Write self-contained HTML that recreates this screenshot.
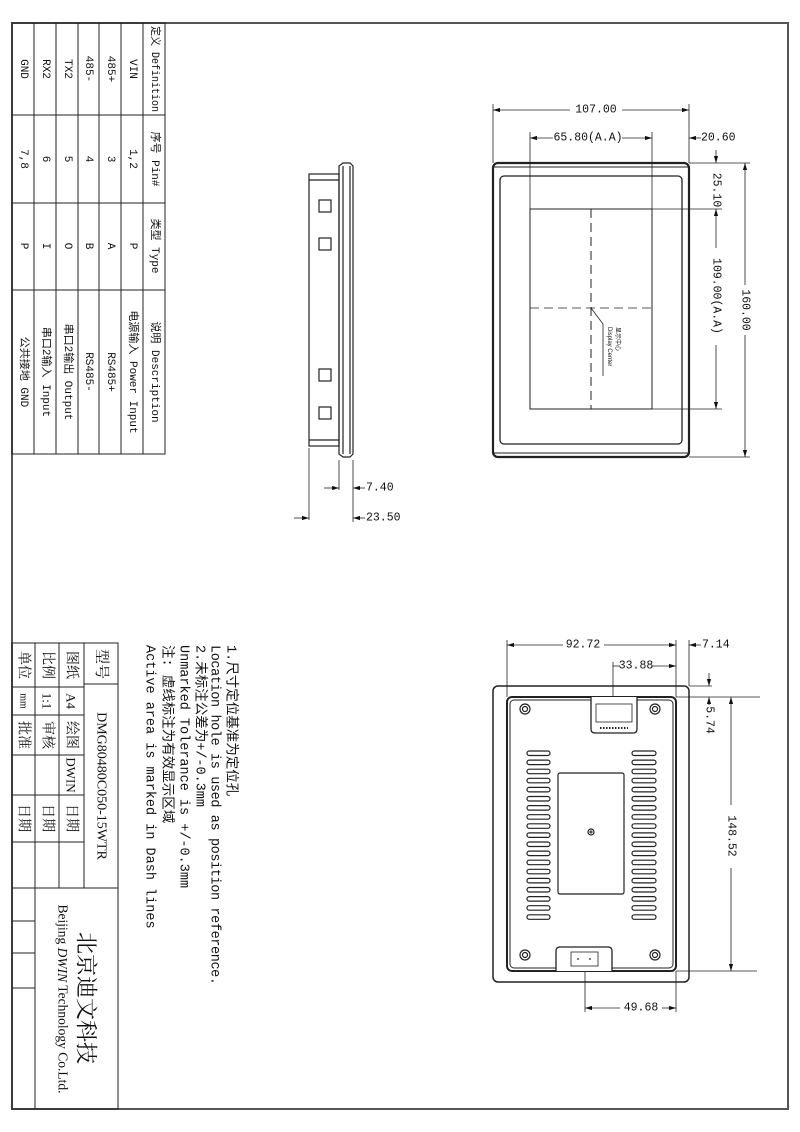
<!DOCTYPE html>
<html><head><meta charset="utf-8"><style>
html,body{margin:0;padding:0;background:#fff;}
svg{display:block;}
text{fill:#111;}
.m{font-family:"Liberation Mono","Noto Sans CJK SC",monospace;}
.s{font-family:"Liberation Serif","Noto Serif CJK SC",serif;}
</style></head><body>
<svg width="800" height="1132" viewBox="0 0 800 1132" xmlns="http://www.w3.org/2000/svg">
<defs>
<marker id="a" viewBox="0 0 10 10" refX="10" refY="5" markerWidth="7" markerHeight="7" orient="auto-start-reverse" markerUnits="userSpaceOnUse"><path d="M0,2 L10,5 L0,8 z" fill="#111"/></marker>
</defs>
<g fill="none" stroke="#333" stroke-width="1.5">
<path d="M12,23 H788 V1109 H12 Z" stroke="#555" stroke-width="2"/>
</g>
<!-- pin table -->
<g fill="none" stroke="#222" stroke-width="1">
<rect x="12" y="23" width="153" height="431"/>
<line x1="34" y1="23" x2="34" y2="454"/><line x1="56" y1="23" x2="56" y2="454"/>
<line x1="78" y1="23" x2="78" y2="454"/><line x1="99" y1="23" x2="99" y2="454"/>
<line x1="121" y1="23" x2="121" y2="454"/><line x1="143" y1="23" x2="143" y2="454"/>
<line x1="12" y1="115" x2="165" y2="115"/><line x1="12" y1="203" x2="165" y2="203"/>
<line x1="12" y1="290" x2="165" y2="290"/>
</g>
<g class="m" font-size="11" text-anchor="middle" dominant-baseline="central">
<text transform="translate(154,69) rotate(90)" textLength="86" lengthAdjust="spacingAndGlyphs">定义 Definition</text>
<text transform="translate(154,159) rotate(90)">序号 Pin#</text>
<text transform="translate(154,246) rotate(90)">类型 Type</text>
<text transform="translate(154,372) rotate(90)">说明 Description</text>
<text transform="translate(132,69) rotate(90)">VIN</text>
<text transform="translate(132,159) rotate(90)">1,2</text>
<text transform="translate(132,246) rotate(90)">P</text>
<text transform="translate(132,372) rotate(90)">电源输入 Power Input</text>
<text transform="translate(110,69) rotate(90)">485+</text>
<text transform="translate(110,159) rotate(90)">3</text>
<text transform="translate(110,246) rotate(90)">A</text>
<text transform="translate(110,372) rotate(90)">RS485+</text>
<text transform="translate(88,69) rotate(90)">485-</text>
<text transform="translate(88,159) rotate(90)">4</text>
<text transform="translate(88,246) rotate(90)">B</text>
<text transform="translate(88,372) rotate(90)">RS485-</text>
<text transform="translate(67,69) rotate(90)">TX2</text>
<text transform="translate(67,159) rotate(90)">5</text>
<text transform="translate(67,246) rotate(90)">O</text>
<text transform="translate(67,372) rotate(90)">串口2输出 Output</text>
<text transform="translate(45,69) rotate(90)">RX2</text>
<text transform="translate(45,159) rotate(90)">6</text>
<text transform="translate(45,246) rotate(90)">I</text>
<text transform="translate(45,372) rotate(90)">串口2输入 Input</text>
<text transform="translate(23,69) rotate(90)">GND</text>
<text transform="translate(23,159) rotate(90)">7,8</text>
<text transform="translate(23,246) rotate(90)">P</text>
<text transform="translate(23,372) rotate(90)">公共接地 GND</text>
</g>
<!-- title block -->
<g fill="none" stroke="#222" stroke-width="1">
<rect x="12" y="643" width="106" height="466"/>
<line x1="35" y1="643" x2="35" y2="1109"/><line x1="59" y1="643" x2="59" y2="888"/>
<line x1="84" y1="643" x2="84" y2="888"/>
<line x1="84" y1="684" x2="118" y2="684"/>
<line x1="12" y1="687" x2="84" y2="687"/><line x1="12" y1="715" x2="84" y2="715"/>
<line x1="12" y1="755" x2="84" y2="755"/><line x1="12" y1="795" x2="84" y2="795"/>
<line x1="12" y1="842" x2="84" y2="842"/><line x1="12" y1="888" x2="118" y2="888"/>
<line x1="12" y1="921" x2="35" y2="921"/><line x1="12" y1="953" x2="35" y2="953"/>
<line x1="12" y1="988" x2="35" y2="988"/>
</g>
<g class="s" font-size="13" text-anchor="middle" dominant-baseline="central">
<text transform="translate(101,664) rotate(90)" font-size="15">型号</text>
<text transform="translate(101,786) rotate(90)" font-size="14">DMG80480C050-15WTR</text>
<text transform="translate(71,665) rotate(90)" font-size="14">图纸</text>
<text transform="translate(71,701) rotate(90)">A4</text>
<text transform="translate(71,735) rotate(90)" font-size="14">绘图</text>
<text transform="translate(71,775) rotate(90)">DWIN</text>
<text transform="translate(71,818) rotate(90)" font-size="14">日期</text>
<text transform="translate(47,665) rotate(90)" font-size="14">比例</text>
<text transform="translate(47,701) rotate(90)">1:1</text>
<text transform="translate(47,735) rotate(90)" font-size="14">审核</text>
<text transform="translate(47,818) rotate(90)" font-size="14">日期</text>
<text transform="translate(23,665) rotate(90)" font-size="14">单位</text>
<text transform="translate(23,701) rotate(90)" font-size="10">mm</text>
<text transform="translate(23,735) rotate(90)" font-size="14">批准</text>
<text transform="translate(23,818) rotate(90)" font-size="14">日期</text>
<text transform="translate(86,998) rotate(90)" font-size="22">北京迪文科技</text>
<text transform="translate(63,999) rotate(90)" font-size="13.5">Beijing <tspan font-style="italic">DWIN</tspan> Technology Co.Ltd.</text>
</g>
<!-- notes -->
<g class="m" font-size="13.5" dominant-baseline="central">
<text transform="translate(230,645) rotate(90)">1.尺寸定位基准为定位孔</text>
<text transform="translate(214,645) rotate(90)" textLength="340">Location hole is used as position reference.</text>
<text transform="translate(199,645) rotate(90)">2.未标注公差为+/-0.3mm</text>
<text transform="translate(183,645) rotate(90)">Unmarked Tolerance is +/-0.3mm</text>
<text transform="translate(166,645) rotate(90)">注: 虚线标注为有效显示区域</text>
<text transform="translate(149,645) rotate(90)">Active area is marked in Dash lines</text>
</g>
<!-- side view -->
<g fill="none" stroke="#222" stroke-width="1.2">
<path d="M343,163 H350 L353,166 V454 L350,457 H343 L339,454 V166 Z"/>
<line x1="343" y1="166" x2="343" y2="454"/><line x1="350" y1="166" x2="350" y2="454"/>
<rect x="309" y="174" width="30" height="272"/>
<line x1="309" y1="180" x2="339" y2="180"/><line x1="309" y1="440" x2="339" y2="440"/>
<rect x="319" y="200" width="12" height="12"/><rect x="319" y="238" width="12" height="12"/>
<rect x="319" y="369" width="12" height="12"/><rect x="319" y="407" width="12" height="12"/>
</g>
<g stroke="#222" stroke-width="0.8" fill="none">
<line x1="309" y1="448" x2="309" y2="520"/><line x1="339" y1="460" x2="339" y2="490"/>
<line x1="353" y1="460" x2="353" y2="522"/>
<line x1="324" y1="488" x2="339" y2="488" marker-end="url(#a)"/>
<line x1="365" y1="488" x2="353" y2="488" marker-end="url(#a)"/>
<line x1="294" y1="518" x2="309" y2="518" marker-end="url(#a)"/>
<line x1="365" y1="518" x2="353" y2="518" marker-end="url(#a)"/>
</g>
<g class="m" font-size="11.5" dominant-baseline="central">
<text x="366" y="488">7.40</text><text x="366" y="518">23.50</text>
</g>
<!-- front view -->
<g fill="none" stroke="#222">
<rect x="493" y="163" width="196" height="294" rx="5" stroke-width="2.2"/>
<line x1="494" y1="167" x2="688" y2="167" stroke-width="1"/>
<line x1="494" y1="453" x2="688" y2="453" stroke-width="1"/>
<rect x="500" y="176" width="182" height="268" rx="4" stroke-width="1.3"/>
<rect x="530" y="209" width="122" height="200" stroke-width="1"/>
<line x1="591" y1="209" x2="591" y2="409" stroke-dasharray="9,5" stroke-width="1"/>
<line x1="530" y1="308" x2="652" y2="308" stroke-dasharray="9,5" stroke-width="0.8"/>
<polyline points="591,308 603,324 603,376" stroke-width="0.8"/>
</g>
<g stroke="#222" stroke-width="0.8" fill="none">
<line x1="493" y1="104" x2="493" y2="163"/><line x1="689" y1="104" x2="689" y2="163"/>
<line x1="570" y1="110" x2="493" y2="110" marker-end="url(#a)"/><line x1="622" y1="110" x2="689" y2="110" marker-end="url(#a)"/>
<line x1="530" y1="132" x2="530" y2="209"/><line x1="652" y1="132" x2="652" y2="209"/>
<line x1="553" y1="138" x2="530" y2="138" marker-end="url(#a)"/><line x1="622" y1="138" x2="652" y2="138" marker-end="url(#a)"/>
<line x1="701" y1="138" x2="689" y2="138" marker-end="url(#a)"/>
<line x1="689" y1="163" x2="750" y2="163"/><line x1="689" y1="457" x2="750" y2="457"/>
<line x1="652" y1="209" x2="722" y2="209"/><line x1="652" y1="409" x2="722" y2="409"/>
<line x1="745" y1="285" x2="745" y2="163" marker-end="url(#a)"/><line x1="745" y1="335" x2="745" y2="457" marker-end="url(#a)"/>
<line x1="716" y1="248" x2="716" y2="209" marker-end="url(#a)"/><line x1="716" y1="345" x2="716" y2="409" marker-end="url(#a)"/>
<line x1="716" y1="150" x2="716" y2="163" marker-end="url(#a)"/>
</g>
<g class="m" font-size="11.5" dominant-baseline="central">
<text x="596" y="110" text-anchor="middle">107.00</text>
<text x="588" y="138" text-anchor="middle">65.80(A.A)</text>
<text x="701" y="138">20.60</text>
<text transform="translate(745,310) rotate(90)" text-anchor="middle">160.00</text>
<text transform="translate(716,296) rotate(90)" text-anchor="middle">109.00(A.A)</text>
<text transform="translate(716,190) rotate(90)" text-anchor="middle">25.10</text>
</g>
<g font-size="6" font-family="Liberation Sans,Noto Sans CJK SC,sans-serif" dominant-baseline="central">
<text transform="translate(617,327) rotate(90)">显示中心</text>
<text transform="translate(609,327) rotate(90)">Display Center</text>
</g>
<!-- back view -->
<g fill="none" stroke="#222">
<rect x="493" y="686" width="196" height="296" rx="5" stroke-width="1.5"/>
<rect x="507" y="697" width="169" height="274" rx="5" stroke-width="2"/>
<rect x="510" y="700" width="163" height="268" rx="4" stroke-width="1"/>
<g stroke-width="1.2">
<circle cx="525" cy="709" r="5"/><circle cx="525" cy="709" r="2.5"/>
<circle cx="655" cy="709" r="5"/><circle cx="655" cy="709" r="2.5"/>
<circle cx="525" cy="955" r="5"/><circle cx="525" cy="955" r="2.5"/>
<circle cx="655" cy="955" r="5"/><circle cx="655" cy="955" r="2.5"/>
</g>
<path d="M591,697 V729 Q591,733 595,733 H633 Q637,733 637,729 V697" fill="#fff" stroke-width="1.3"/>
<rect x="596" y="704" width="36" height="18" stroke-width="0.8"/>
<line x1="600" y1="728" x2="628" y2="728" stroke-dasharray="1.5,1.5" stroke-width="2"/>
<path d="M556,971 V951 Q556,947 560,947 H608 Q612,947 612,951 V971" fill="#fff" stroke-width="1.3"/>
<rect x="571" y="952" width="27" height="14" stroke-width="0.8"/>
<rect x="558" y="773" width="66" height="121" rx="2" stroke-width="1.2"/>
<circle cx="591" cy="832" r="3" stroke-width="1.2"/><circle cx="591" cy="832" r="1" />
</g>
<g fill="#222"><circle cx="578" cy="959" r="0.9"/><circle cx="590" cy="959" r="0.9"/></g>
<g fill="none" stroke="#222" stroke-width="1.2">
<rect x="527" y="751" width="23" height="4.5" rx="2.2"/><rect x="632" y="751" width="24" height="4.5" rx="2.2"/>
<rect x="527" y="760.1" width="23" height="4.5" rx="2.2"/><rect x="632" y="760.1" width="24" height="4.5" rx="2.2"/>
<rect x="527" y="769.2" width="23" height="4.5" rx="2.2"/><rect x="632" y="769.2" width="24" height="4.5" rx="2.2"/>
<rect x="527" y="778.3" width="23" height="4.5" rx="2.2"/><rect x="632" y="778.3" width="24" height="4.5" rx="2.2"/>
<rect x="527" y="787.4" width="23" height="4.5" rx="2.2"/><rect x="632" y="787.4" width="24" height="4.5" rx="2.2"/>
<rect x="527" y="796.5" width="23" height="4.5" rx="2.2"/><rect x="632" y="796.5" width="24" height="4.5" rx="2.2"/>
<rect x="527" y="805.6" width="23" height="4.5" rx="2.2"/><rect x="632" y="805.6" width="24" height="4.5" rx="2.2"/>
<rect x="527" y="814.7" width="23" height="4.5" rx="2.2"/><rect x="632" y="814.7" width="24" height="4.5" rx="2.2"/>
<rect x="527" y="823.8" width="23" height="4.5" rx="2.2"/><rect x="632" y="823.8" width="24" height="4.5" rx="2.2"/>
<rect x="527" y="832.9" width="23" height="4.5" rx="2.2"/><rect x="632" y="832.9" width="24" height="4.5" rx="2.2"/>
<rect x="527" y="842" width="23" height="4.5" rx="2.2"/><rect x="632" y="842" width="24" height="4.5" rx="2.2"/>
<rect x="527" y="851.1" width="23" height="4.5" rx="2.2"/><rect x="632" y="851.1" width="24" height="4.5" rx="2.2"/>
<rect x="527" y="860.2" width="23" height="4.5" rx="2.2"/><rect x="632" y="860.2" width="24" height="4.5" rx="2.2"/>
<rect x="527" y="869.3" width="23" height="4.5" rx="2.2"/><rect x="632" y="869.3" width="24" height="4.5" rx="2.2"/>
<rect x="527" y="878.4" width="23" height="4.5" rx="2.2"/><rect x="632" y="878.4" width="24" height="4.5" rx="2.2"/>
<rect x="527" y="887.5" width="23" height="4.5" rx="2.2"/><rect x="632" y="887.5" width="24" height="4.5" rx="2.2"/>
<rect x="527" y="896.6" width="23" height="4.5" rx="2.2"/><rect x="632" y="896.6" width="24" height="4.5" rx="2.2"/>
<rect x="527" y="905.7" width="23" height="4.5" rx="2.2"/><rect x="632" y="905.7" width="24" height="4.5" rx="2.2"/>
<rect x="527" y="914.8" width="23" height="4.5" rx="2.2"/><rect x="632" y="914.8" width="24" height="4.5" rx="2.2"/>
</g>
<g stroke="#222" stroke-width="0.8" fill="none">
<line x1="507" y1="640" x2="507" y2="697"/><line x1="676" y1="640" x2="676" y2="697"/>
<line x1="689" y1="640" x2="689" y2="686"/>
<line x1="563" y1="645" x2="507" y2="645" marker-end="url(#a)"/><line x1="604" y1="645" x2="676" y2="645" marker-end="url(#a)"/>
<line x1="701" y1="645" x2="689" y2="645" marker-end="url(#a)"/>
<line x1="613" y1="662" x2="613" y2="697"/>
<line x1="613" y1="666" x2="620" y2="666"/>
<line x1="652" y1="666" x2="676" y2="666" marker-end="url(#a)"/>
<line x1="689" y1="686" x2="712" y2="686"/><line x1="676" y1="697" x2="760" y2="697"/>
<line x1="709" y1="673" x2="709" y2="686" marker-end="url(#a)"/>
<line x1="709" y1="705" x2="709" y2="697" marker-end="url(#a)"/>
<line x1="676" y1="971" x2="757" y2="971"/>
<line x1="731" y1="805" x2="731" y2="697" marker-end="url(#a)"/><line x1="731" y1="868" x2="731" y2="971" marker-end="url(#a)"/>
<line x1="585" y1="971" x2="585" y2="1012"/><line x1="676" y1="971" x2="676" y2="1012"/>
<line x1="620" y1="1008" x2="585" y2="1008" marker-end="url(#a)"/><line x1="662" y1="1008" x2="676" y2="1008" marker-end="url(#a)"/>
</g>
<g class="m" font-size="11.5" dominant-baseline="central">
<text x="583" y="645" text-anchor="middle">92.72</text>
<text x="636" y="666" text-anchor="middle">33.88</text>
<text x="702" y="645">7.14</text>
<text transform="translate(709,720) rotate(90)" text-anchor="middle">5.74</text>
<text transform="translate(731,836) rotate(90)" text-anchor="middle">148.52</text>
<text x="641" y="1008" text-anchor="middle">49.68</text>
</g>
</svg>
</body></html>
